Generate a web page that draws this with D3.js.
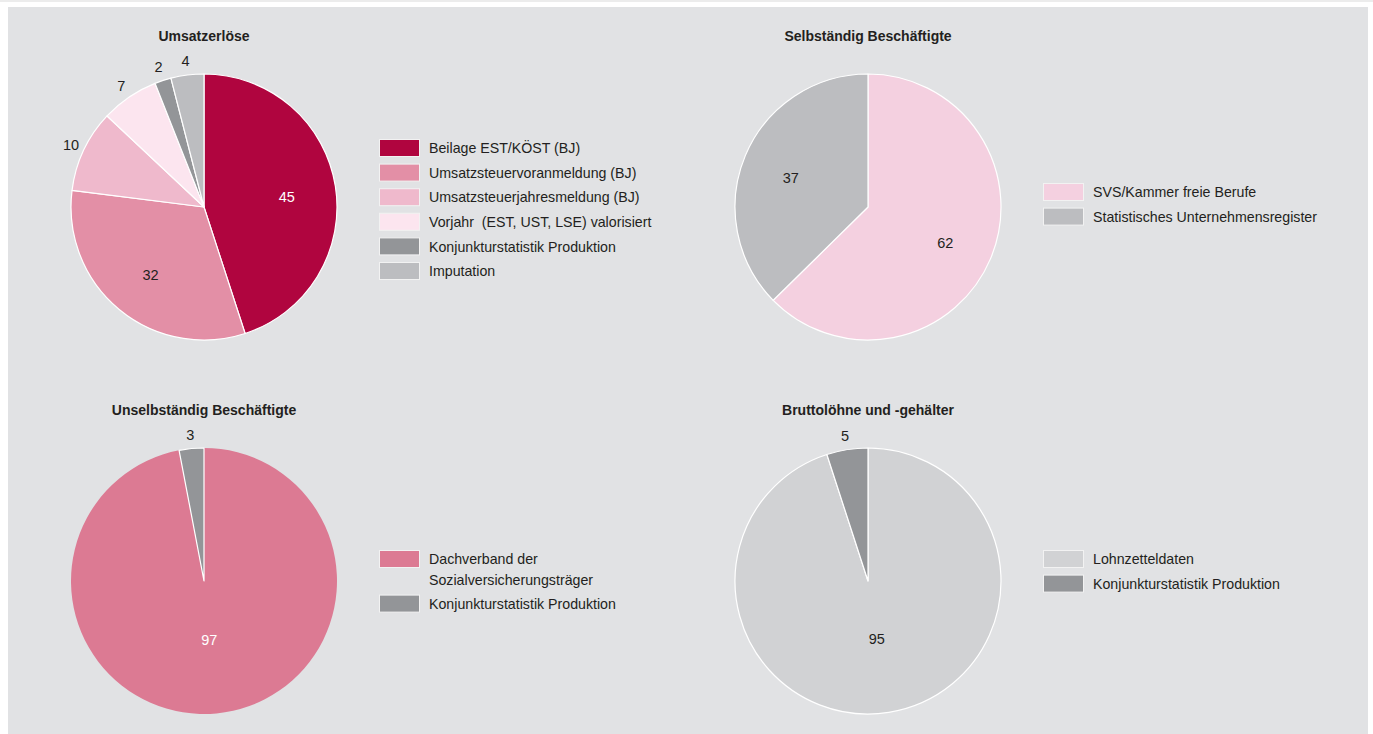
<!DOCTYPE html>
<html>
<head>
<meta charset="utf-8">
<script src="https://cdn.jsdelivr.net/npm/d3@7"></script>
<style>
  body { margin: 0; background: #fff; }
  text { font-family: "Liberation Sans", Arial, sans-serif; fill: #231f20; }
  .title { font-weight: bold; font-size: 14px; }
  .pie-label { font-size: 14.5px; }
  .legend-text { font-size: 14.2px; white-space: pre; }
</style>
</head>
<body>
<div id="chart"></div>
<script>
// data
const umsatzLabels = ["Beilage EST/KÖST (BJ)", "Umsatzsteuervoranmeldung (BJ)", "Umsatzsteuerjahresmeldung (BJ)",
    "Vorjahr  (EST, UST, LSE) valorisiert", "Konjunkturstatistik Produktion", "Imputation"];
const umsatzValues = [45, 32, 10, 7, 2, 4];
const umsatzColors = ["#b0053f", "#e38fa6", "#efb9cc", "#fce5ef", "#939598", "#bcbdc0"];

const selbLabels = ["SVS/Kammer freie Berufe", "Statistisches Unternehmensregister"];
const selbValues = [62, 37];
const selbColors = ["#f4d0e0", "#bcbdc0"];

const unselbLabels = [["Dachverband der", "Sozialversicherungsträger"], "Konjunkturstatistik Produktion"];
const unselbValues = [97, 3];
const unselbColors = ["#dc7a93", "#939598"];

const bruttoLabels = ["Lohnzetteldaten", "Konjunkturstatistik Produktion"];
const bruttoValues = [95, 5];
const bruttoColors = ["#d1d2d4", "#939598"];

// slices that get white numbers
const whiteLabelColors = ["#b0053f", "#dc7a93"];
// slices drawn without the white outline
const noStrokeColors = ["#dc7a93"];

const width = 1373, height = 734;
const radius = 133;

const svg = d3.select("#chart").append("svg")
    .attr("width", width)
    .attr("height", height);

svg.append("rect").attr("x", 0).attr("y", 0).attr("width", width).attr("height", 2).attr("fill", "#ececec");
svg.append("rect").attr("x", 8).attr("y", 7).attr("width", 1360).attr("height", 727).attr("fill", "#e1e2e4");

function drawPie(title, labels, values, colors, cx, cy, legendX, legendY){
    const g = svg.append("g").attr("transform", `translate(${cx},${cy})`);

    g.append("text")
        .attr("class", "title")
        .attr("x", 0)
        .attr("y", -166)
        .attr("text-anchor", "middle")
        .text(title);

    const pie = d3.pie().sort(null).value(d => d);
    const arcs = pie(values);
    const total = d3.sum(values);
    const arc = d3.arc().innerRadius(0).outerRadius(radius);

    g.selectAll(".slice")
        .data(arcs)
        .enter()
        .append("path")
        .attr("class", "slice")
        .attr("d", arc)
        .attr("fill", (d, i) => colors[i])
        .attr("stroke", (d, i) => noStrokeColors.includes(colors[i]) ? "none" : "#fff")
        .attr("stroke-width", 1.2)
        .attr("stroke-linejoin", "round");

    g.selectAll(".pie-label")
        .data(arcs)
        .enter()
        .append("text")
        .attr("class", "pie-label")
        .attr("text-anchor", "middle")
        .attr("dy", "0.36em")
        .attr("transform", d => {
            const frac = d.value / total;
            const a = (d.startAngle + d.endAngle) / 2;
            let r, shift = 3;
            if (frac < 0.15) { r = radius + 14; shift = 0; }
            else if (frac > 0.9) r = radius * 0.42;
            else r = radius * 0.63;
            return `translate(${Math.sin(a) * r},${-Math.cos(a) * r + shift})`;
        })
        .style("fill", (d, i) => (whiteLabelColors.includes(colors[i]) && d.value / total >= 0.15) ? "#fff" : "#231f20")
        .text(d => d.value);

    // legend
    const legend = svg.append("g").attr("transform", `translate(${legendX},${legendY})`);
    let y = 0;
    labels.forEach((lab, i) => {
        const lines = Array.isArray(lab) ? lab : [lab];
        legend.append("rect")
            .attr("x", 0.5)
            .attr("y", y + 0.5)
            .attr("width", 40)
            .attr("height", 17)
            .attr("fill", colors[i])
            .attr("stroke", "#f2f2f2")
            .attr("stroke-width", 1);
        lines.forEach((line, j) => {
            legend.append("text")
                .attr("class", "legend-text")
                .attr("x", 50)
                .attr("y", y + 9 + j * 21)
                .attr("dy", "0.36em")
                .text(line);
        });
        y += 24.6 + (lines.length - 1) * 20;
    });
}

drawPie("Umsatzerlöse", umsatzLabels, umsatzValues, umsatzColors, 204, 207, 379, 139);
drawPie("Selbständig Beschäftigte", selbLabels, selbValues, selbColors, 868, 207, 1043, 183);
drawPie("Unselbständig Beschäftigte", unselbLabels, unselbValues, unselbColors, 204, 581, 379, 550);
drawPie("Bruttolöhne und -gehälter", bruttoLabels, bruttoValues, bruttoColors, 868, 581, 1043, 550);
</script>
</body>
</html>
